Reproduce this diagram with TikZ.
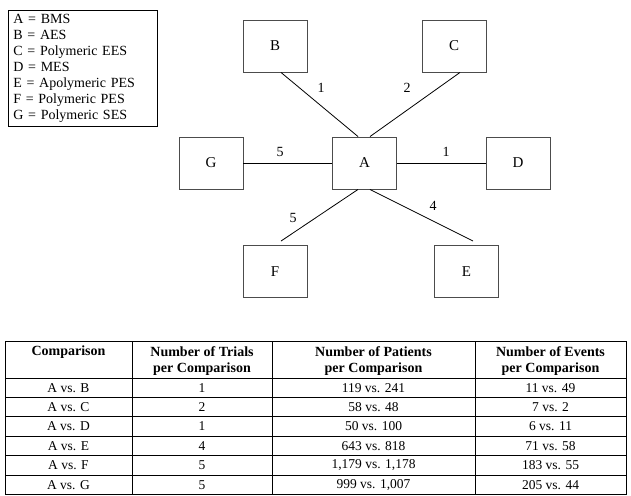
\documentclass[tikz,border=0pt]{standalone}
\usepackage{fontspec}
\setmainfont{Liberation Serif}
\begin{document}
\begin{tikzpicture}[x=1pt,y=-1pt,
  box/.style={draw=black!70, line width=0.9pt, minimum width=64pt, minimum height=52pt, inner sep=0pt, font=\fontsize{15}{18}\selectfont},
  link/.style={draw=black, line width=0.8pt},
  num/.style={font=\fontsize{14}{16}\selectfont, inner sep=0pt},
  cell/.style={font=\fontsize{13.5}{16}\selectfont, inner sep=0pt},
  head/.style={font=\bfseries\fontsize{14}{17}\selectfont, inner sep=0pt},
  grid/.style={draw=black, line width=0.8pt}]
\useasboundingbox (0,0) rectangle (631,495);
% legend
\node[draw=black, line width=0.9pt, anchor=north west, minimum width=149pt, minimum height=116pt,
      text width=139pt, inner xsep=5pt, inner ysep=2pt, align=left,
      font=\fontsize{14}{16}\selectfont] (legend) at (8,10)
  {A = BMS\\B = AES\\C = Polymeric EES\\D = MES\\E = Apolymeric PES\\F = Polymeric PES\\G = Polymeric SES};
% boxes
\node[box] (B) at (275,46) {B};
\node[box] (C) at (454,46) {C};
\node[box] (G) at (211,163) {G};
\node[box] (A) at (364.5,163) {A};
\node[box] (D) at (518,163) {D};
\node[box] (F) at (275,271.5) {F};
\node[box] (E) at (466.5,271.5) {E};
% links
\draw[link] ([xshift=6pt]B.south) -- ([xshift=-6.5pt]A.north);
\draw[link] ([xshift=6pt]C.south) -- ([xshift=5.5pt]A.north);
\draw[link] (G.east) -- (A.west);
\draw[link] (A.east) -- (D.west);
\draw[link] ([xshift=-6.5pt]A.south) -- ([xshift=6pt,yshift=4pt]F.north);
\draw[link] ([xshift=5.5pt]A.south) -- ([xshift=6.5pt,yshift=4pt]E.north);
% labels
\node[num] (lAB) at (321,88) {1};
\node[num] (lAC) at (407,88) {2};
\node[num] (lAG) at (280,152) {5};
\node[num] (lAD) at (446,152) {1};
\node[num] (lAF) at (293,218) {5};
\node[num] (lAE) at (433,206) {4};
% table grid
\foreach \x in {5,132,272,475,626} \draw[grid] (\x,341) -- (\x,495);
\foreach \y in {341,378,397.4,416.8,436.2,455.6,475,494.4} \draw[grid] (5,\y) -- (626,\y);
% header
\node[head] (h1) at (68.5,352) {Comparison};
\node[head] (h2a) at (202,352) {Number of Trials};
\node[head] (h2b) at (202,369.5) {per Comparison};
\node[head] (h3a) at (373.5,352) {Number of Patients};
\node[head] (h3b) at (373.5,369.5) {per Comparison};
\node[head] (h4a) at (550.5,352) {Number of Events};
\node[head] (h4b) at (550.5,369.5) {per Comparison};
% rows
\node[cell] (r1c1) at (68.5,387.7) {A vs. B};
\node[cell] (r1c2) at (202,387.7) {1};
\node[cell] (r1c3) at (373.5,387.7) {119 vs. 241};
\node[cell] (r1c4) at (550.5,387.7) {11 vs. 49};
\node[cell] (r2c1) at (68.5,407.1) {A vs. C};
\node[cell] (r2c2) at (202,407.1) {2};
\node[cell] (r2c3) at (373.5,407.1) {58 vs. 48};
\node[cell] (r2c4) at (550.5,407.1) {7 vs. 2};
\node[cell] (r3c1) at (68.5,426.5) {A vs. D};
\node[cell] (r3c2) at (202,426.5) {1};
\node[cell] (r3c3) at (373.5,426.5) {50 vs. 100};
\node[cell] (r3c4) at (550.5,426.5) {6 vs. 11};
\node[cell] (r4c1) at (68.5,445.9) {A vs. E};
\node[cell] (r4c2) at (202,445.9) {4};
\node[cell] (r4c3) at (373.5,445.9) {643 vs. 818};
\node[cell] (r4c4) at (550.5,445.9) {71 vs. 58};
\node[cell] (r5c1) at (68.5,465.3) {A vs. F};
\node[cell] (r5c2) at (202,465.3) {5};
\node[cell] (r5c3) at (373.5,465.3) {1,179 vs. 1,178};
\node[cell] (r5c4) at (550.5,465.3) {183 vs. 55};
\node[cell] (r6c1) at (68.5,484.7) {A vs. G};
\node[cell] (r6c2) at (202,484.7) {5};
\node[cell] (r6c3) at (373.5,484.7) {999 vs. 1,007};
\node[cell] (r6c4) at (550.5,484.7) {205 vs. 44};
\end{tikzpicture}
\end{document}
